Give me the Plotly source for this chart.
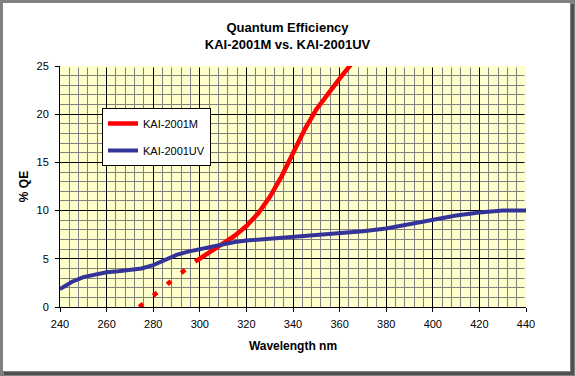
import plotly.graph_objects as go

# ---- data ----
red_dash_wl = [274, 298]
red_dash_qe = [0.0, 4.7]

red_wl = [298, 300, 305, 310, 315, 320, 325, 330, 335, 340, 345, 350, 355, 360, 365]
red_qe = [4.7, 5.0, 5.8, 6.6, 7.4, 8.4, 9.7, 11.4, 13.5, 16.0, 18.4, 20.5, 22.2, 23.7, 25.2]

uv_wl = [240, 245, 250, 255, 260, 265, 270, 275, 280, 285, 290, 295, 300, 305, 310, 315, 320,
         330, 340, 350, 360, 370, 380, 390, 400, 410, 420, 430, 440]
uv_qe = [1.85, 2.6, 3.1, 3.4, 3.6, 3.7, 3.85, 4.0, 4.35, 4.85, 5.4, 5.75, 6.0, 6.3, 6.6, 6.75, 6.9,
         7.1, 7.25, 7.45, 7.6, 7.85, 8.15, 8.6, 9.0, 9.5, 9.8, 10.0, 10.0]

x_range = [240, 440]
y_range = [0, 25]

FONT = "Arial, Liberation Sans, sans-serif"

fig = go.Figure()
fig.add_trace(go.Scatter(x=red_dash_wl, y=red_dash_qe, mode="lines",
                         line=dict(color="#FF0000", width=4.5, dash="5px,13px"),
                         legendgroup="m", showlegend=False, hoverinfo="skip"))
fig.add_trace(go.Scatter(x=red_wl, y=red_qe, mode="lines", name="KAI-2001M",
                         line=dict(color="#FF0000", width=4.5), legendgroup="m"))
fig.add_trace(go.Scatter(x=uv_wl, y=uv_qe, mode="lines", name="KAI-2001UV",
                         line=dict(color="#333399", width=4), legendgroup="uv"))

W, H = 575, 376
ML, MR, MT, MB = 60, 49, 66, 69
PW, PH = W - ML - MR, H - MT - MB

def px_x(p):
    return (p - ML) / PW

def px_y(p):
    return (H - MB - p) / PH

shapes = []
def band(x0, y0, x1, y1, color):
    shapes.append(dict(type="rect", xref="paper", yref="paper",
                       x0=px_x(x0), x1=px_x(x1), y0=px_y(y1), y1=px_y(y0),
                       fillcolor=color, line=dict(width=0), layer="below"))

band(0, 0, W, 3, "#808080")
band(0, 0, 3, H, "#808080")
band(570, 0, W, H, "#808080")
band(0, 371, W, H, "#808080")
band(571, 4, 574, 375, "#505050")
band(4, 372, 574, 375, "#505050")

# hide the grid lines that fall on the top and right edges of the plot area
shapes.append(dict(type="line", xref="x", yref="y", x0=x_range[0] + 0.5, x1=x_range[1],
                   y0=y_range[1], y1=y_range[1], line=dict(color="#FFFFCC", width=3),
                   layer="between"))
shapes.append(dict(type="line", xref="x", yref="y", x0=x_range[1], x1=x_range[1],
                   y0=y_range[0] + 0.1, y1=y_range[1], line=dict(color="#FFFFCC", width=3),
                   layer="between"))

axis_common = dict(showline=True, linecolor="black", linewidth=1,
                   ticks="outside", ticklen=4, tickcolor="black", tickwidth=1,
                   showgrid=True, gridcolor="black", gridwidth=1, zeroline=False,
                   tickfont=dict(family=FONT, size=11, color="black"))

fig.update_layout(
    width=W, height=H, autosize=False,
    margin=dict(l=ML, r=MR, t=MT, b=MB, pad=0),
    paper_bgcolor="white", plot_bgcolor="#FFFFCC",
    title=dict(text="Quantum Efficiency<br>KAI-2001M vs. KAI-2001UV",
               font=dict(family=FONT, size=13, color="black", weight="bold"),
               x=0.5, xref="container", xanchor="center",
               y=1 - 32 / H, yref="container", yanchor="top"),
    xaxis=dict(range=x_range, tick0=240, dtick=20, ticklabelstandoff=3,
               minor=dict(dtick=4, showgrid=True, gridcolor="#808080", gridwidth=1, ticks=""),
               title=dict(text="Wavelength nm", standoff=12,
                          font=dict(family=FONT, size=12, color="black", weight="bold")),
               **axis_common),
    yaxis=dict(range=y_range, tick0=0, dtick=5, ticklabelstandoff=4,
               minor=dict(dtick=1, showgrid=True, gridcolor="#808080", gridwidth=1, ticks=""),
               title=dict(text="% QE", standoff=5,
                          font=dict(family=FONT, size=12, color="black", weight="bold")),
               **axis_common),
    legend=dict(x=px_x(102), y=px_y(108), xanchor="left", yanchor="top",
                bgcolor="white", bordercolor="black", borderwidth=1,
                font=dict(family=FONT, size=11, color="black"),
                itemwidth=30, traceorder="grouped", tracegroupgap=8),
    shapes=shapes,
    showlegend=True,
)

fig.write_html("out.html", config={"displayModeBar": False},
               post_script="document.body.style.margin='0px';")
